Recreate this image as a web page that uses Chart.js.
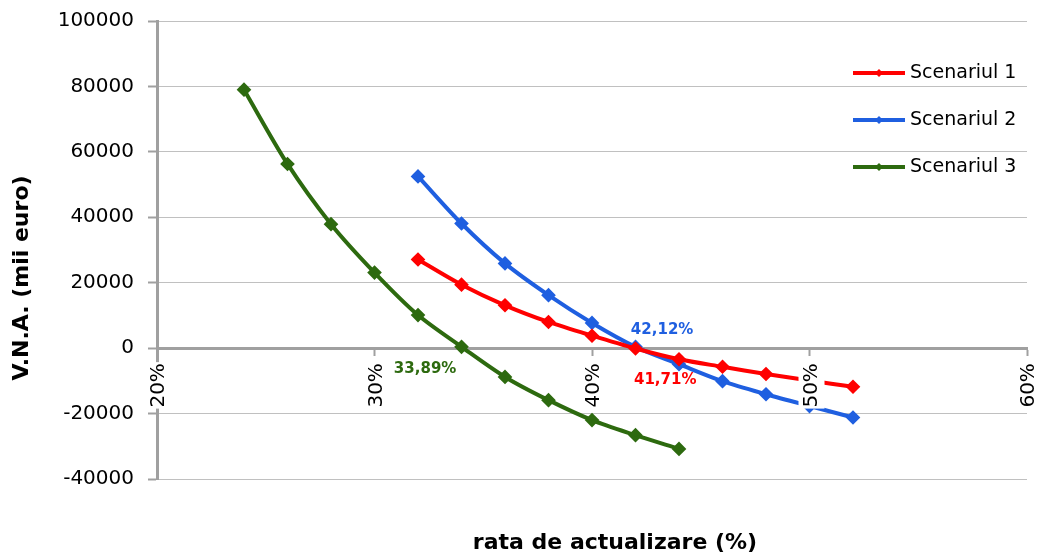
<!DOCTYPE html>
<html>
<head>
<meta charset="utf-8">
<script src="https://cdn.jsdelivr.net/npm/chart.js@4.4.1/dist/chart.umd.min.js"></script>
<style>body{margin:0;background:#fff}</style>
</head>
<body>
<canvas id="grafic" width="1041" height="556"></canvas>
<script>
// Ratele de actualizare (%)
const rateS12 = [32, 34, 36, 38, 40, 42, 44, 46, 48, 50, 52];
const rateS3 = [24, 26, 28, 30, 32, 34, 36, 38, 40, 42, 44];
// V.N.A. (mii euro) pe scenarii
const vnaS1 = [27100, 19400, 13100, 8000, 3800, -100, -3400, -5700, -7900, -9900, -11800];
const vnaS2 = [52500, 38100, 25900, 16200, 7700, 400, -4900, -10100, -14100, -17700, -21200];
const vnaS3 = [79000, 56300, 37900, 23100, 10100, 400, -8800, -15900, -22000, -26600, -30800];
const scenarii = ['Scenariul 1', 'Scenariul 2', 'Scenariul 3'];
const culori = ['#ff0000', '#1f5fe0', '#2d6a0f'];
// RIR - punctul unde curba taie axa
const rir = [41.71, 42.12, 33.89];
const rirText = ['41,71%', '42,12%', '33,89%'];

const FONT = '"DejaVu Sans", Verdana, sans-serif';
Chart.defaults.font.family = FONT;
Chart.defaults.color = '#000';

function puncte(xs, ys) {
    return xs.map((x, i) => ({ x: x, y: ys[i] }));
}

// Etichete RIR, titluri de axe si legenda desenate manual
const decalaje = [[36, 32], [24, -18], [-34, 21]];
const extraPlugin = {
    id: 'extra',
    afterDraw(chart) {
        const ctx = chart.ctx;
        const area = chart.chartArea;
        const xs = chart.scales.x, ys = chart.scales.y;

        // etichete RIR
        ctx.save();
        ctx.font = 'bold 15px ' + FONT;
        ctx.textAlign = 'center';
        ctx.textBaseline = 'middle';
        rir.forEach((v, i) => {
            ctx.fillStyle = culori[i];
            ctx.fillText(rirText[i], xs.getPixelForValue(v) + decalaje[i][0], ys.getPixelForValue(0) + decalaje[i][1]);
        });
        ctx.restore();

        // titluri axe
        ctx.save();
        ctx.fillStyle = '#000';
        ctx.font = 'bold 22px ' + FONT;
        ctx.textAlign = 'center';
        ctx.textBaseline = 'middle';
        ctx.fillText('rata de actualizare (%)', (area.left + area.right) / 2 + 23, 543);
        ctx.translate(22, 278);
        ctx.rotate(-Math.PI / 2);
        ctx.fillText('V.N.A. (mii euro)', 0, 0);
        ctx.restore();

        // legenda
        ctx.save();
        ctx.font = '19px ' + FONT;
        ctx.textBaseline = 'middle';
        chart.data.datasets.forEach((ds, i) => {
            const y = 73 + i * 47;
            ctx.strokeStyle = ds.borderColor;
            ctx.fillStyle = ds.borderColor;
            ctx.lineWidth = 4;
            ctx.beginPath();
            ctx.moveTo(853, y);
            ctx.lineTo(905, y);
            ctx.stroke();
            ctx.beginPath();
            ctx.moveTo(879, y - 4);
            ctx.lineTo(883, y);
            ctx.lineTo(879, y + 4);
            ctx.lineTo(875, y);
            ctx.closePath();
            ctx.fill();
            ctx.fillStyle = '#000';
            ctx.fillText(ds.label, 910, y);
        });
        ctx.restore();
    }
};

const seturi = [puncte(rateS12, vnaS1), puncte(rateS12, vnaS2), puncte(rateS3, vnaS3)];

new Chart(document.getElementById('grafic'), {
    type: 'line',
    data: {
        datasets: scenarii.map((s, i) => ({
            label: s,
            data: seturi[i],
            borderColor: culori[i],
            backgroundColor: culori[i],
            borderWidth: 4,
            pointStyle: 'rectRot',
            pointRadius: 4.5,
            pointHoverRadius: 4.5,
            tension: 0.3,
            fill: false
        }))
    },
    options: {
        responsive: false,
        animation: false,
        layout: { padding: { top: 21, right: 14, bottom: 77, left: 0 } },
        plugins: {
            legend: { display: false },
            tooltip: { enabled: false }
        },
        scales: {
            x: {
                type: 'linear',
                position: { y: 0 },
                min: 20,
                max: 60,
                afterFit: s => { s.paddingLeft = 0; s.paddingRight = 0; },
                grid: {
                    drawOnChartArea: false,
                    tickLength: 6,
                    tickColor: '#a0a0a0',
                    tickWidth: 2
                },
                border: { color: '#a0a0a0', width: 3 },
                ticks: {
                    stepSize: 10,
                    minRotation: 90,
                    maxRotation: 90,
                    padding: 9,
                    labelOffset: -10,
                    z: 1,
                    showLabelBackdrop: true,
                    backdropColor: '#fff',
                    backdropPadding: 1,
                    font: { size: 20 },
                    callback: v => v + '%'
                }
            },
            y: {
                min: -40000,
                max: 100000,
                afterFit: s => { s.width = 157; s.paddingTop = 0; s.paddingBottom = 0; },
                grid: {
                    color: '#c0c0c0',
                    lineWidth: 1,
                    tickLength: 9,
                    tickColor: '#a0a0a0',
                    tickWidth: 2
                },
                border: { color: '#a0a0a0', width: 3 },
                ticks: {
                    stepSize: 20000,
                    padding: 14,
                    font: { size: 20 },
                    callback: v => String(v)
                }
            }
        }
    },
    plugins: [extraPlugin]
});
</script>
</body>
</html>
